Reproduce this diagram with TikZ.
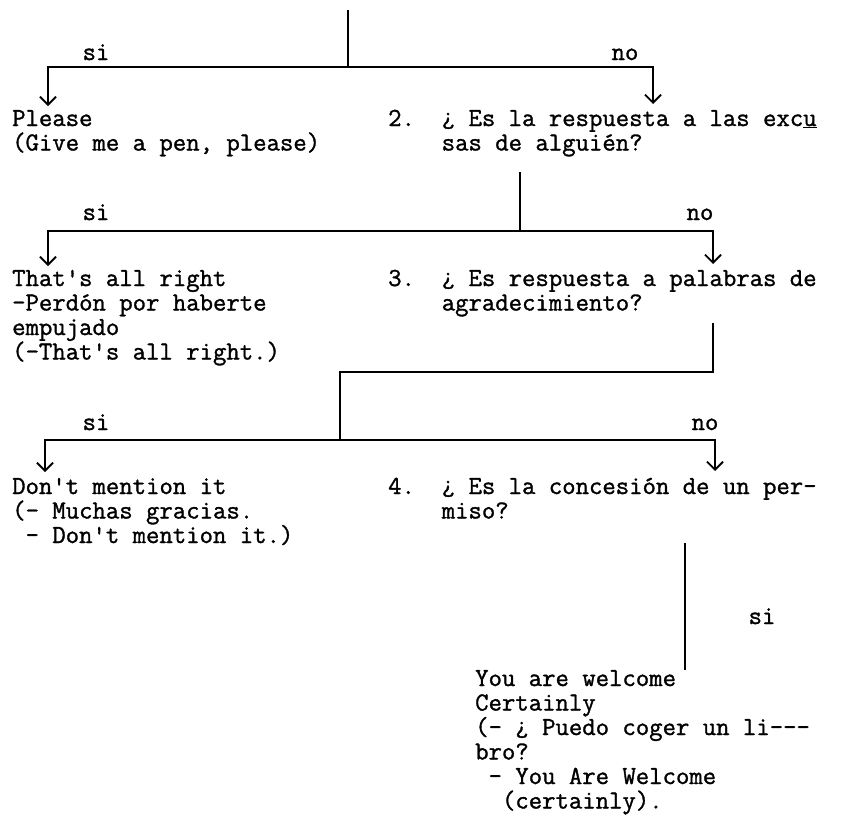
\documentclass[tikz,border=0pt]{standalone}
\usepackage{fontspec}
\setmonofont{Latin Modern Mono}[FakeBold=1.2]
\usetikzlibrary{arrows.meta}
\newcommand\invq{\raisebox{3pt}{¿}}
\begin{document}
\begin{tikzpicture}[x=1pt,y=-1pt,
  txt/.style={font=\ttfamily\fontsize{26}{24.5}\selectfont, inner sep=0pt, align=left, anchor=base west},
  lbl/.style={font=\ttfamily\fontsize{26}{24.5}\selectfont, inner sep=0pt, anchor=base},
  ln/.style={line width=1.8pt},
  arr/.style={ln, -{Straight Barb[length=8pt,width=16pt,line width=1.8pt]}}]
\useasboundingbox (0,0) rectangle (849,822);

% text blocks (anchored at the baseline of their last line)
\node[txt] (a1) at (12,150.5) {Please\\(Give me a pen, please)};
\node[txt] (q2) at (388,150.5) {2.\ \ \invq{} Es la respuesta a las exc\underline{u}\\\hphantom{xxxx}sas de alguién?};
\node[txt] (a2) at (12,359.5) {That's all right\\-Perdón por haberte\\empujado\\(-That's all right.)};
\node[txt] (q3) at (388,310.5) {3.\ \ \invq{} Es respuesta a palabras de\\\hphantom{xxxx}agradecimiento?};
\node[txt] (a3) at (12,543) {Don't mention it\\(- Muchas gracias.\\\hphantom{x}- Don't mention it.)};
\node[txt] (q4) at (388,518.5) {4.\ \ \invq{} Es la concesión de un per-\\\hphantom{xxxx}miso?};
\node[txt] (a4) at (475,808.5) {You are welcome\\Certainly\\(- \invq{} Puedo coger un li---\\bro?\\\hphantom{x}- You Are Welcome\\\hphantom{xx}(certainly).};

% branch 1
\coordinate (top) at (348,10);
\coordinate (j1) at (348,67);
\coordinate (t1L) at (48,106);
\coordinate (t1R) at (653,104);
\draw[ln] (top) -- (j1);
\draw[arr] (j1) -| (t1L);
\draw[arr] (j1) -| (t1R);
\node[lbl] (si1) at (96,60) {si};
\node[lbl] (no1) at (625,60) {no};

% branch 2
\coordinate (s2) at (520,172);
\coordinate (j2) at (520,231);
\coordinate (t2L) at (48,266);
\coordinate (t2R) at (713,264);
\draw[ln] (s2) -- (j2);
\draw[arr] (j2) -| (t2L);
\draw[arr] (j2) -| (t2R);
\node[lbl] (si2) at (96,220) {si};
\node[lbl] (no2) at (700,220) {no};

% branch 3
\coordinate (s3) at (713,323);
\coordinate (k3) at (340,372);
\coordinate (j3) at (340,440);
\coordinate (t3L) at (45,472);
\coordinate (t3R) at (715,471);
\draw[ln] (s3) |- (k3) -- (j3);
\draw[arr] (j3) -| (t3L);
\draw[arr] (j3) -| (t3R);
\node[lbl] (si3) at (96,430) {si};
\node[lbl] (no3) at (705,430) {no};

% branch 4
\coordinate (s4) at (685,543);
\coordinate (e4) at (685,670);
\draw[ln] (s4) -- (e4);
\node[lbl] (si4) at (762,624) {si};
\end{tikzpicture}
\end{document}
